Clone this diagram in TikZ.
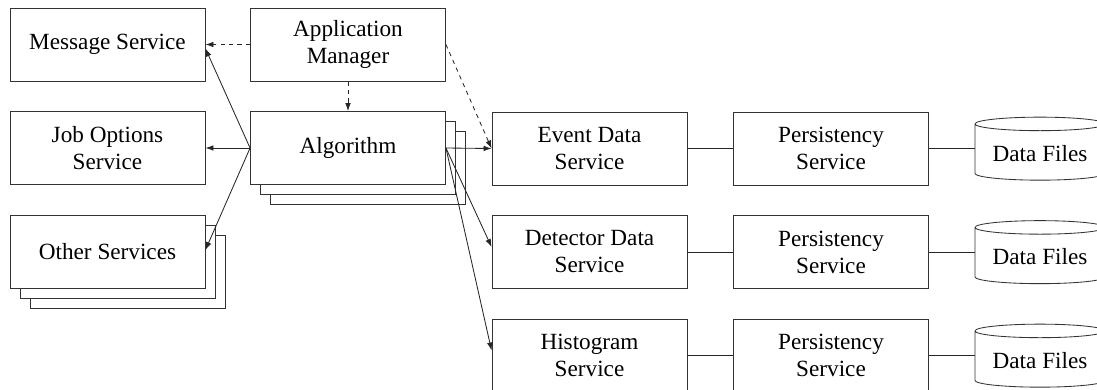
\documentclass[tikz,border=0pt]{standalone}
\usepackage{fontspec}
\setmainfont{Liberation Serif}
\usetikzlibrary{positioning,arrows.meta,calc,shapes.geometric,shadows}
\tikzset{
  svcbox/.style={draw=black!80,fill=white,line width=0.6pt,minimum width=4.875cm,
    minimum height=1.825cm,align=center,inner sep=2pt,font=\fontsize{16.5}{19.2}\selectfont},
  stackbox/.style={svcbox,double copy shadow={shadow xshift=0.25cm,shadow yshift=-0.25cm}},
  store/.style={cylinder,shape border rotate=90,draw=black!80,fill=white,line width=0.6pt,
    aspect=0.13,minimum height=1.575cm,minimum width=3.25cm,
    font=\fontsize{16.5}{19.2}\selectfont},
  arr/.style={-{Latex[length=2mm,width=1.4mm]},line width=0.6pt,black!85},
  dasharr/.style={arr,dashed},
  link/.style={line width=0.6pt,black!85},
}
\begin{document}
\begin{tikzpicture}[x=0.025cm,y=-0.025cm]
  \clip (0,0) rectangle (1097,389);
  % framework core
  \node[svcbox] (appmgr) at (348,44.5) {Application\\Manager};
  \node[stackbox] (algo) at (348,148) {Algorithm};
  % basic services
  \node[svcbox] (msgsvc) at (107.5,44.5) {Message Service};
  \node[svcbox] (jobsvc) at (107.5,148) {Job Options\\Service};
  \node[stackbox] (othsvc) at (107.5,252) {Other Services};
  % data services, persistency, files
  \node[svcbox] (evtsvc) at (589.5,148.5) {Event Data\\Service};
  \node[svcbox] (detsvc) at (589.5,252) {Detector Data\\Service};
  \node[svcbox] (histsvc) at (589.5,355.5) {Histogram\\Service};
  \node[svcbox] (pers1) at (831,148.5) {Persistency\\Service};
  \node[svcbox] (pers2) at (831,252) {Persistency\\Service};
  \node[svcbox] (pers3) at (831,355.5) {Persistency\\Service};
  \node[store] (files1) at (1040,153.5) {Data Files};
  \node[store] (files2) at (1040,257) {Data Files};
  \node[store] (files3) at (1040,360.5) {Data Files};

  \draw[dasharr] (appmgr.west) -- (msgsvc.east);
  \draw[dasharr] (appmgr.south) -- (algo.north);
  \draw[dasharr] (appmgr.east) -- (evtsvc.west);
  \draw[arr] (algo.west) -- ($(msgsvc.east)+(0,4)$);
  \draw[arr] (algo.west) -- (jobsvc.east);
  \draw[arr] (algo.west) -- ($(othsvc.east)+(0,-2)$);
  \draw[arr] (algo.east) -- (evtsvc.west);
  \draw[arr] (algo.east) -- ($(detsvc.west)+(0,-5)$);
  \draw[arr] (algo.east) -- ($(histsvc.west)+(0,-5)$);
  \foreach \r in {1,2,3}{
    \draw[link] (pers\r.east) -- (pers\r.east -| files\r.west);
  }
  \draw[link] (evtsvc.east) -- (pers1.west);
  \draw[link] (detsvc.east) -- (pers2.west);
  \draw[link] (histsvc.east) -- (pers3.west);
\end{tikzpicture}
\end{document}
